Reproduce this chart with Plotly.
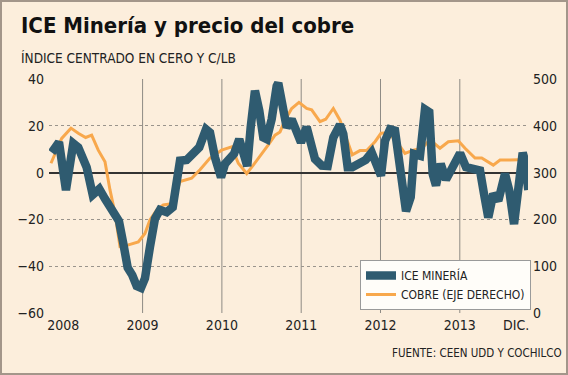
import plotly.graph_objects as go

# ---- data (x in decimal years) ----
ice_x = [2007.854, 2007.946, 2008.034, 2008.126, 2008.189, 2008.232, 2008.295, 2008.371, 2008.454, 2008.526,
         2008.610, 2008.702, 2008.757, 2008.812, 2008.870, 2008.926, 2008.980, 2009.030, 2009.093, 2009.156,
         2009.219, 2009.304, 2009.380, 2009.430, 2009.472, 2009.556, 2009.661, 2009.715, 2009.800, 2009.850,
         2009.913, 2009.989, 2010.039, 2010.102, 2010.153, 2010.219, 2010.279, 2010.320, 2010.363, 2010.417,
         2010.472, 2010.522, 2010.565, 2010.628, 2010.691, 2010.711, 2010.754, 2010.817, 2010.880, 2010.922,
         2010.997, 2011.069, 2011.111, 2011.174, 2011.259, 2011.334, 2011.405, 2011.489, 2011.531, 2011.586,
         2011.644, 2011.720, 2011.813, 2011.889, 2011.952, 2012.006, 2012.057, 2012.120, 2012.183, 2012.246,
         2012.322, 2012.381, 2012.422, 2012.498, 2012.561, 2012.615, 2012.658, 2012.700, 2012.759, 2012.826,
         2012.898, 2013.003, 2013.078, 2013.170, 2013.255, 2013.305, 2013.359, 2013.422, 2013.486, 2013.570,
         2013.624, 2013.684, 2013.738, 2013.793, 2013.822, 2013.864]
ice_y = [8.6, 13.0, -7.5, 12.5, 10.8, 6.2, 2.3, -9.5, -7.0, -11.2,
         -16.2, -20.7, -30.3, -40.6, -43.8, -48.5, -49.3, -45.2, -31.8, -19.7,
         -15.9, -16.9, -14.8, -4.8, 5.1, 5.4, 8.6, 10.8, 18.5, 17.1,
         6.5, -2.0, 3.7, 6.8, 8.0, 14.3, 8.0, 2.8, 19.3, 35.0,
         26.4, 15.0, 14.3, 22.8, 37.0, 38.3, 30.6, 19.3, 22.8, 18.6,
         12.9, 19.5, 15.0, 5.8, 3.0, 2.8, 15.0, 20.5, 16.5, 2.3,
         2.3, 4.0, 5.4, 8.6, 3.7, -1.3, 13.6, 18.5, 17.9, 2.3,
         -16.5, -10.5, 8.0, 7.2, 27.0, 25.8, -0.6, -5.5, 3.7, -3.0,
         0.9, 8.3, 2.3, 1.1, 0.9, -9.1, -19.2, -9.1, -12.0, -0.5,
         -7.7, -22.0, -9.1, 8.5, 5.1, -7.4]

cobre_x = [2007.845, 2007.895, 2007.980, 2008.097, 2008.189, 2008.282, 2008.358, 2008.441, 2008.526, 2008.589,
           2008.652, 2008.715, 2008.812, 2008.946, 2009.030, 2009.093, 2009.178, 2009.261, 2009.387, 2009.472,
           2009.619, 2009.724, 2009.850, 2009.997, 2010.124, 2010.207, 2010.313, 2010.396, 2010.480, 2010.585,
           2010.670, 2010.733, 2010.796, 2010.880, 2010.972, 2011.069, 2011.132, 2011.237, 2011.309, 2011.405,
           2011.489, 2011.574, 2011.644, 2011.741, 2011.826, 2011.931, 2012.006, 2012.098, 2012.204, 2012.309,
           2012.414, 2012.520, 2012.624, 2012.750, 2012.855, 2012.981, 2013.066, 2013.192, 2013.276, 2013.422,
           2013.507, 2013.633, 2013.738, 2013.864]
cobre_y = [320, 341, 373, 395, 384, 375, 380, 348, 323, 263,
           213, 142, 145, 152, 170, 199, 220, 231, 234, 281,
           288, 306, 331, 348, 355, 320, 298, 316, 334, 359,
           380, 387, 412, 437, 450, 437, 434, 409, 414, 437,
           412, 370, 338, 347, 347, 366, 384, 385, 366, 341,
           348, 352, 370, 352, 366, 368, 352, 331, 331, 316,
           327, 327, 327, 328]

tick_vals = [2008, 2009, 2010, 2011, 2012, 2013, 2013.71]
tick_text = ["2008", "2009", "2010", "2011", "2012", "2013", "DIC."]
year_lines = [2009, 2010, 2011, 2012, 2013]
left_ticks = [-60, -40, -20, 0, 20, 40]
right_ticks = [0, 100, 200, 300, 400, 500]

# ---- style ----
W, H = 568, 375
ML, MR, MT, MB = 49, 40, 79, 62
PW, PH = W - ML - MR, H - MT - MB
BG = "#FCEEDC"
BLUE = "#2F5B70"
ORANGE = "#F8A84C"
FONT = "DejaVu Sans Condensed, DejaVu Sans, sans-serif"


def px_x(px):
    return (px - ML) / PW


def px_y(py):
    return (H - MB - py) / PH


fig = go.Figure()

fig.add_trace(go.Scatter(x=cobre_x, y=cobre_y, yaxis="y", mode="lines",
                         line=dict(color=ORANGE, width=3), name="COBRE (EJE DERECHO)",
                         cliponaxis=False))
fig.add_trace(go.Scatter(x=[cobre_x[-1]], y=[cobre_y[-1]], yaxis="y", mode="markers",
                         marker=dict(size=7, color=BG, line=dict(color=ORANGE, width=1.5)),
                         showlegend=False, cliponaxis=False))
fig.add_trace(go.Scatter(x=ice_x, y=ice_y, yaxis="y2", mode="lines",
                         line=dict(color=BLUE, width=8.5), name="ICE MINERÍA",
                         cliponaxis=False))
fig.add_trace(go.Scatter(x=[ice_x[-1]], y=[ice_y[-1]], yaxis="y2", mode="markers",
                         marker=dict(size=10, color="white", line=dict(color=BLUE, width=2.5)),
                         showlegend=False, cliponaxis=False))

shapes = []
for yr in year_lines:
    shapes.append(dict(type="line", xref="x", yref="paper", x0=yr, x1=yr, y0=0, y1=1,
                       line=dict(color="#8E8A84", width=1), layer="below"))
# outer border
shapes.append(dict(type="rect", xref="paper", yref="paper",
                   x0=px_x(1), x1=px_x(W - 1), y0=px_y(H - 1), y1=px_y(1),
                   line=dict(color="#A3968A", width=2), layer="above"))

annotations = [
    dict(text="<b>ICE Minería y precio del cobre</b>", xref="paper", yref="paper",
         x=px_x(19), y=px_y(26), xanchor="left", yanchor="middle", showarrow=False,
         font=dict(family=FONT, size=22, color="#111111")),
    dict(text="ÍNDICE CENTRADO EN CERO Y C/LB", xref="paper", yref="paper",
         x=px_x(19), y=px_y(58), xanchor="left", yanchor="middle", showarrow=False,
         font=dict(family=FONT, size=13.5, color="#222222")),
    dict(text="FUENTE: CEEN UDD Y COCHILCO", xref="paper", yref="paper",
         x=px_x(564), y=px_y(353), xanchor="right", yanchor="middle", showarrow=False,
         font=dict(family=FONT, size=11.5, color="#222222")),
]

fig.update_layout(
    width=W, height=H,
    margin=dict(l=ML, r=MR, t=MT, b=MB, autoexpand=False),
    paper_bgcolor=BG, plot_bgcolor=BG,
    font=dict(family=FONT, size=14, color="#222222"),
    xaxis=dict(range=[2007.82, 2013.86], tickvals=tick_vals, ticktext=tick_text,
               tickangle=0, showgrid=False, zeroline=False, showline=False, ticks="",
               ticklabelstandoff=2, fixedrange=True),
    yaxis=dict(range=[0, 500], side="right", tickvals=right_ticks, showgrid=False,
               zeroline=False, showline=False, ticks="", ticklabelstandoff=4),
    yaxis2=dict(range=[-60, 40], side="left", overlaying="y", tickvals=left_ticks,
                showgrid=True, gridcolor="#9A948C", griddash="dot", gridwidth=1,
                zeroline=True, zerolinecolor="#333333", zerolinewidth=1.5,
                showline=False, ticks="", ticklabelstandoff=4),
    legend=dict(x=px_x(360), y=px_y(260), xanchor="left", yanchor="top",
                bgcolor="#FFFDF9", bordercolor="#9A9A9A", borderwidth=1,
                font=dict(family=FONT, size=12, color="#222222"),
                traceorder="reversed", itemwidth=30, tracegroupgap=0),
    shapes=shapes,
    annotations=annotations,
    showlegend=True,
)

fig.write_html("out.html", config={"displayModeBar": False})

# remove the browser's default page margin so the figure sits at (0, 0)
with open("out.html", encoding="utf-8") as f:
    html = f.read()
html = html.replace("<body>", '<body style="margin:0;padding:0;overflow:hidden;">', 1)
with open("out.html", "w", encoding="utf-8") as f:
    f.write(html)
